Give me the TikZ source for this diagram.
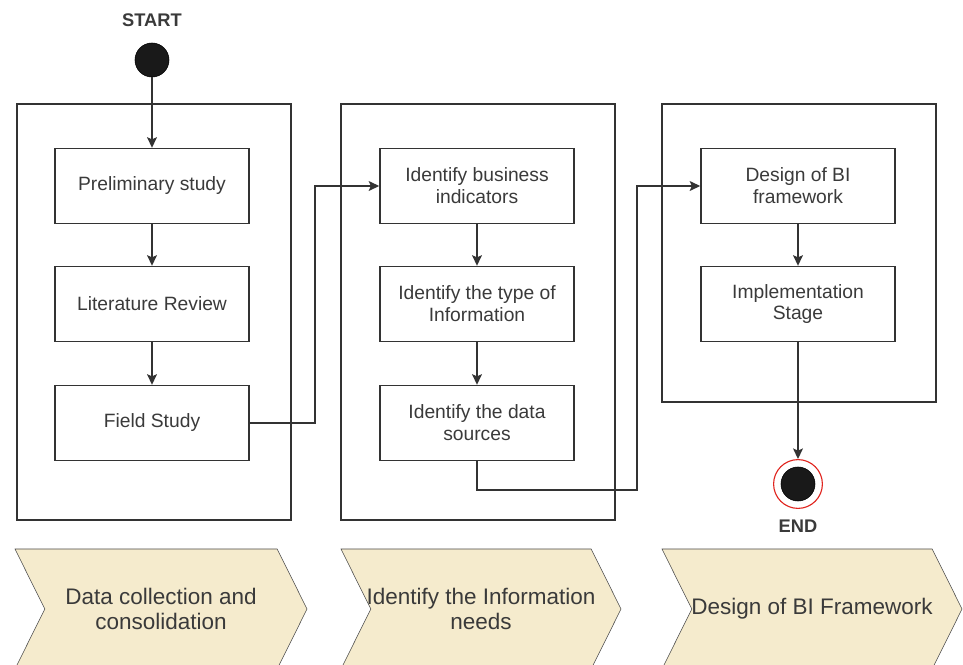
\documentclass[tikz,border=0pt]{standalone}
\usepackage{fontspec}
\setmainfont{Liberation Sans}
\usetikzlibrary{arrows.meta,shapes.symbols}
\definecolor{lineclr}{HTML}{333333}
\definecolor{txtclr}{HTML}{3A3A3A}
\definecolor{chevfill}{RGB}{245,235,205}
\definecolor{endred}{HTML}{E0251F}

\begin{document}
\begin{tikzpicture}[x=0.025cm,y=-0.025cm,
  flow/.style={draw=lineclr,line width=1pt,-{Stealth[length=7.5pt,width=7pt,inset=1.5pt]}},
  lane/.style={draw=lineclr,line width=1pt,minimum width=6.85cm},
  stepbox/.style={draw=lineclr,line width=1pt,minimum width=4.85cm,minimum height=1.875cm,
	align=center,text=txtclr,font=\fontsize{13.7}{15.6}\selectfont},
  chev/.style={signal,signal from=west,signal to=east,signal pointer angle=127,
	draw=black!70,fill=chevfill,minimum height=3cm,inner sep=0pt},
  phasetxt/.style={align=center,text=txtclr,font=\fontsize{16}{17.7}\selectfont},
  lbl/.style={font=\bfseries\fontsize{13}{15}\selectfont,text=txtclr}]
\useasboundingbox (0,0) rectangle (963,665);
  % start
  \node[lbl] (startlbl) at (152,20) {START};
  \node[circle,fill=black!90,draw=black,minimum size=0.85cm,inner sep=0pt] (start) at (152,60) {};
  % the three lanes
  \node[lane,minimum height=10.4cm] (lane1) at (154,312) {};
  \node[lane,minimum height=10.4cm] (lane2) at (478,312) {};
  \node[lane,minimum height=7.45cm] (lane3) at (799,253) {};
  % steps
  \node[stepbox] (prelim) at (152,186) {Preliminary study};
  \node[stepbox] (litrev) at (152,304) {Literature Review};
  \node[stepbox] (field) at (152,423) {Field Study};
  \node[stepbox] (bizind) at (477,186) {Identify business\\indicators};
  \node[stepbox] (infotype) at (477,304) {Identify the type of\\Information};
  \node[stepbox] (datasrc) at (477,423) {Identify the data\\sources};
  \node[stepbox] (bidesign) at (798,186) {Design of BI\\framework};
  \node[stepbox] (impl) at (798,304) {Implementation\\Stage};
  % end
  \node[circle,draw=endred,line width=0.8pt,minimum size=1.22cm,inner sep=0pt] (finish) at (798,484) {};
  \node[circle,fill=black!90,draw=black,minimum size=0.85cm,inner sep=0pt] (finishdot) at (finish) {};
  \node[lbl] (endlbl) at (798,526) {END};
  % connectors
  \draw[flow] (start) -- (prelim);
  \draw[flow] (prelim) -- (litrev);
  \draw[flow] (litrev) -- (field);
  \draw[flow] (bizind) -- (infotype);
  \draw[flow] (infotype) -- (datasrc);
  \draw[flow] (bidesign) -- (impl);
  \coordinate (j1) at (315,423);
  \draw[flow] (field.east) -- (j1) |- (bizind.west);
  \coordinate (j2) at (637,490);
  \draw[flow] (datasrc.south) |- (j2) |- (bidesign.west);
  \draw[flow] (impl) -- (finish);
  % phases
  \node[chev,minimum width=7.3cm] (phase1) at (161,609) {};
  \node[chev,minimum width=7cm] (phase2) at (481,609) {};
  \node[chev,minimum width=7.5cm] (phase3) at (812,609) {};
  \node[phasetxt] (phase1txt) at (phase1) {Data collection and\\consolidation};
  \node[phasetxt] (phase2txt) at (phase2) {Identify the Information\\needs};
  \node[phasetxt] (phase3txt) at (phase3) {Design of BI Framework};
\end{tikzpicture}
\end{document}
